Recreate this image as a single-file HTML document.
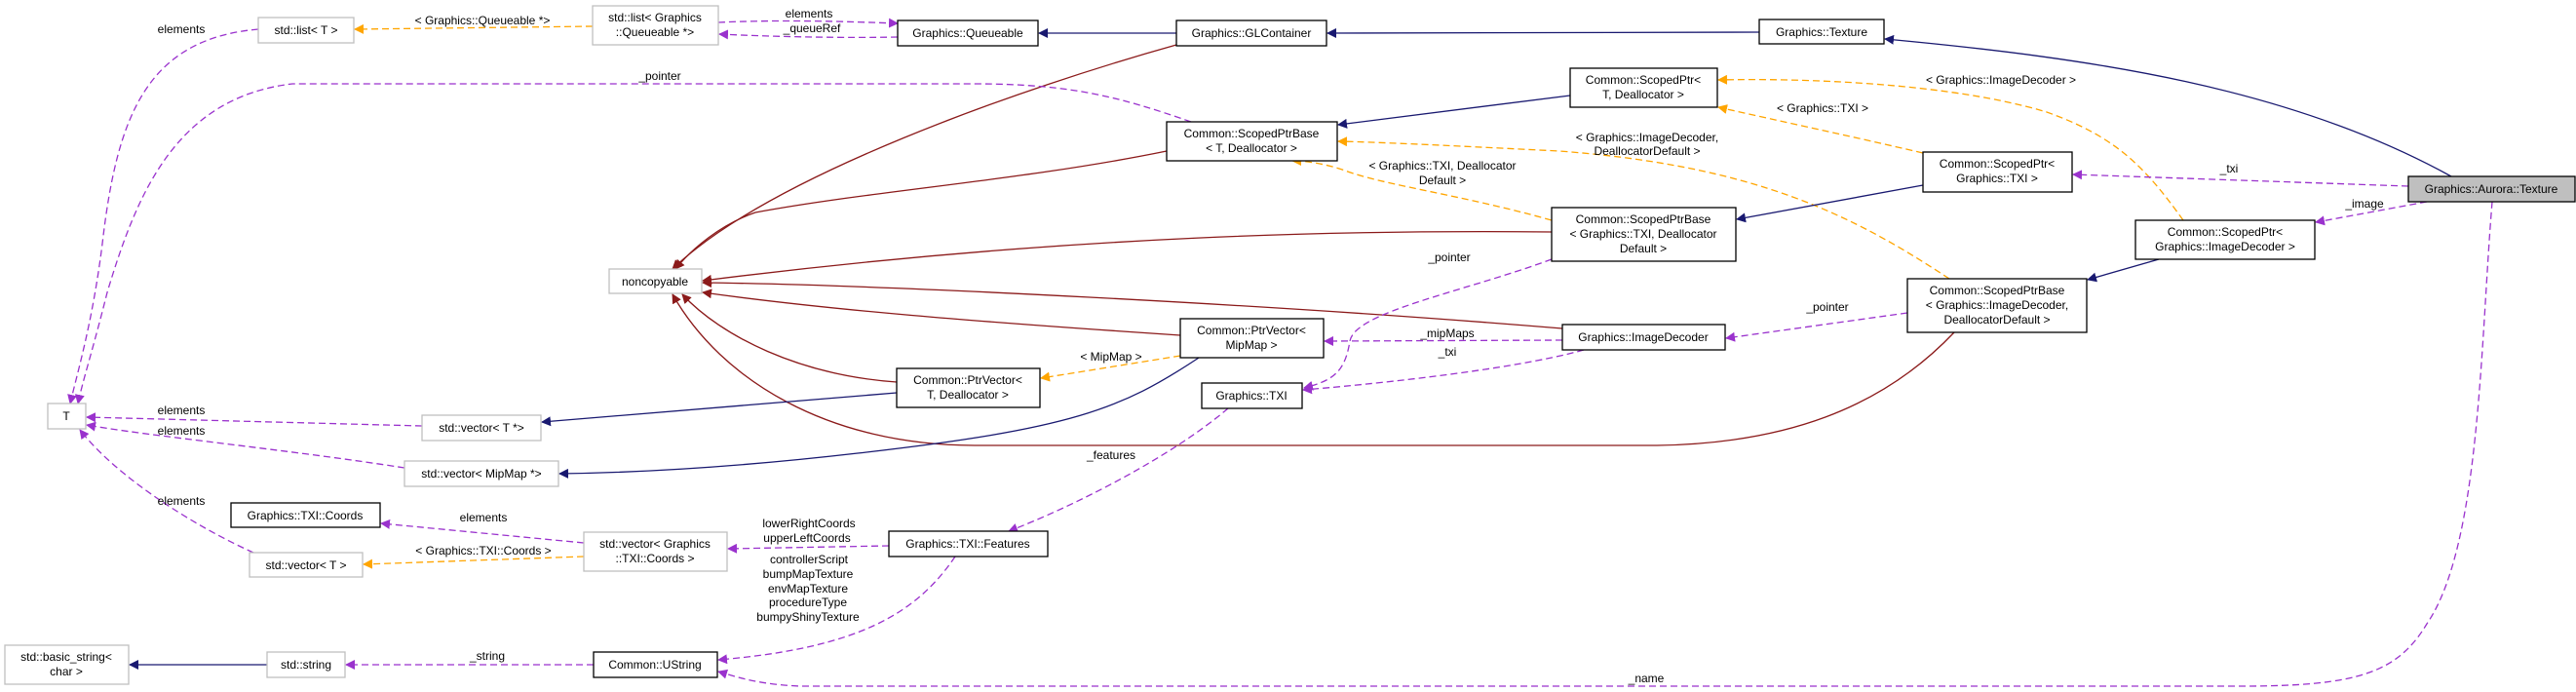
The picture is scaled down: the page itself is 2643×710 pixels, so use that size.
<!DOCTYPE html>
<html><head><meta charset="utf-8"><title>Graphics::Aurora::Texture collaboration diagram</title>
<style>
html,body{margin:0;padding:0;background:#fff;}
svg{display:block;}
text{font-family:"Liberation Sans",sans-serif;font-size:12px;fill:#000;}
.n rect{fill:#fff;stroke:#000;stroke-width:1.3;}
.g rect{fill:#fff;stroke:#bfbfbf;stroke-width:1.3;}
.nav{fill:none;stroke:#191970;stroke-width:1.3;}
.red{fill:none;stroke:#8b1a1a;stroke-width:1.3;}
.pur{fill:none;stroke:#9a32cd;stroke-width:1.3;stroke-dasharray:7,4;}
.org{fill:none;stroke:#ffa500;stroke-width:1.3;stroke-dasharray:7,4;}
</style></head>
<body>
<svg width="2643" height="710" viewBox="0 0 2643 710">
<defs>
<marker id="mn" markerWidth="10" markerHeight="10" refX="9" refY="5" orient="auto" markerUnits="userSpaceOnUse" viewBox="0 0 10 10"><path d="M0,0 L10,5 L0,10 z" fill="#191970"/></marker>
<marker id="mr" markerWidth="10" markerHeight="10" refX="9" refY="5" orient="auto" markerUnits="userSpaceOnUse" viewBox="0 0 10 10"><path d="M0,0 L10,5 L0,10 z" fill="#8b1a1a"/></marker>
<marker id="mp" markerWidth="10" markerHeight="10" refX="9" refY="5" orient="auto" markerUnits="userSpaceOnUse" viewBox="0 0 10 10"><path d="M0,0 L10,5 L0,10 z" fill="#9a32cd"/></marker>
<marker id="mo" markerWidth="10" markerHeight="10" refX="9" refY="5" orient="auto" markerUnits="userSpaceOnUse" viewBox="0 0 10 10"><path d="M0,0 L10,5 L0,10 z" fill="#ffa500"/></marker>
</defs>

<g>
<path class="nav" marker-end="url(#mn)" d="M2515,181 C2350,90 2150,60 1934,40"/>
<path class="nav" marker-end="url(#mn)" d="M1805,33 L1362,34"/>
<path class="nav" marker-end="url(#mn)" d="M1207,34 L1066,34"/>
<path class="red" marker-end="url(#mr)" d="M1207,46 C1050,90 790,180 690,276"/>
<path class="pur" marker-end="url(#mp)" d="M737,23 C800,20 870,22 921,24"/>
<path class="pur" marker-end="url(#mp)" d="M921,38 C870,39 800,38 738,35"/>
<path class="org" marker-end="url(#mo)" d="M608,27 L364,30"/>
<path class="pur" marker-end="url(#mp)" d="M265,30 C150,40 120,120 105,250 C95,330 80,380 72,414"/>
<path class="pur" marker-end="url(#mp)" d="M1222,125 C1150,100 1100,86 1000,86 L300,86 C180,100 140,200 110,300 C95,360 85,390 80,414"/>
<path class="red" marker-end="url(#mr)" d="M1197,155 C1050,185 900,195 775,218 C740,230 710,255 693,276"/>
<path class="nav" marker-end="url(#mn)" d="M1611,98 L1373,128"/>
<path class="org" marker-end="url(#mo)" d="M1592,226 C1500,200 1420,190 1380,175 C1360,168 1340,165 1326,165"/>
<path class="org" marker-end="url(#mo)" d="M2000,286 C1900,220 1800,170 1600,155 C1500,150 1420,146 1373,145"/>
<path class="org" marker-end="url(#mo)" d="M1973,157 C1900,140 1830,125 1763,110"/>
<path class="org" marker-end="url(#mo)" d="M2240,226 C2200,170 2170,140 2100,115 C2000,85 1850,80 1763,82"/>
<path class="nav" marker-end="url(#mn)" d="M1973,190 L1782,225"/>
<path class="nav" marker-end="url(#mn)" d="M2215,266 L2142,287"/>
<path class="pur" marker-end="url(#mp)" d="M2471,191 L2127,179"/>
<path class="pur" marker-end="url(#mp)" d="M2490,207 L2376,228"/>
<path class="pur" marker-end="url(#mp)" d="M2557,207 C2545,350 2545,560 2490,640 C2460,690 2420,704 2300,704 L820,704 C780,702 760,696 737,689"/>
<path class="red" marker-end="url(#mr)" d="M1592,238 C1400,236 1100,240 721,288"/>
<path class="red" marker-end="url(#mr)" d="M1603,337 C1300,312 900,292 721,290"/>
<path class="red" marker-end="url(#mr)" d="M1211,344 C1000,330 850,318 721,300"/>
<path class="red" marker-end="url(#mr)" d="M920,392 C820,385 740,345 700,302"/>
<path class="red" marker-end="url(#mr)" d="M2005,341 C1930,420 1830,455 1700,457 L1000,457 C850,457 740,390 690,302"/>
<path class="nav" marker-end="url(#mn)" d="M920,403 L556,433"/>
<path class="nav" marker-end="url(#mn)" d="M1230,367 C1150,420 1100,440 880,465 C750,480 650,485 574,486"/>
<path class="org" marker-end="url(#mo)" d="M1211,365 L1068,388"/>
<path class="pur" marker-end="url(#mp)" d="M1603,349 L1359,350"/>
<path class="pur" marker-end="url(#mp)" d="M1625,359 C1550,380 1400,395 1337,400"/>
<path class="pur" marker-end="url(#mp)" d="M1592,266 C1500,300 1390,320 1385,350 C1380,380 1370,390 1338,398"/>
<path class="pur" marker-end="url(#mp)" d="M1957,321 L1771,347"/>
<path class="pur" marker-end="url(#mp)" d="M1260,419 C1200,470 1100,520 1035,545"/>
<path class="pur" marker-end="url(#mp)" d="M912,560 L747,563"/>
<path class="pur" marker-end="url(#mp)" d="M980,571 C940,630 880,665 737,677"/>
<path class="pur" marker-end="url(#mp)" d="M599,557 L391,537"/>
<path class="org" marker-end="url(#mo)" d="M599,571 L373,579"/>
<path class="pur" marker-end="url(#mp)" d="M260,567 C200,540 120,490 82,441"/>
<path class="pur" marker-end="url(#mp)" d="M433,437 L89,428"/>
<path class="pur" marker-end="url(#mp)" d="M415,480 C300,462 150,447 89,436"/>
<path class="pur" marker-end="url(#mp)" d="M609,682 L355,682"/>
<path class="nav" marker-end="url(#mn)" d="M274,682 L133,682"/>
</g>

<g text-anchor="middle">
<text x="830" y="18">elements</text>
<text x="833" y="33">_queueRef</text>
<text x="495" y="25">&lt; Graphics::Queueable *&gt;</text>
<text x="186" y="34">elements</text>
<text x="677" y="82">_pointer</text>
<text x="1480" y="174">&lt; Graphics::TXI, Deallocator</text>
<text x="1480" y="189">Default &gt;</text>
<text x="1690" y="145">&lt; Graphics::ImageDecoder,</text>
<text x="1690" y="159">DeallocatorDefault &gt;</text>
<text x="1870" y="115">&lt; Graphics::TXI &gt;</text>
<text x="2053" y="86">&lt; Graphics::ImageDecoder &gt;</text>
<text x="2287" y="177">_txi</text>
<text x="2426" y="213">_image</text>
<text x="1689" y="700">_name</text>
<text x="1140" y="370">&lt; MipMap &gt;</text>
<text x="1485" y="346">_mipMaps</text>
<text x="1485" y="365">_txi</text>
<text x="1487" y="268">_pointer</text>
<text x="1875" y="319">_pointer</text>
<text x="1140" y="471">_features</text>
<text x="830" y="541">lowerRightCoords</text>
<text x="828" y="556">upperLeftCoords</text>
<text x="830" y="578">controllerScript</text>
<text x="829" y="593">bumpMapTexture</text>
<text x="829" y="608">envMapTexture</text>
<text x="829" y="622">procedureType</text>
<text x="829" y="637">bumpyShinyTexture</text>
<text x="496" y="535">elements</text>
<text x="496" y="569">&lt; Graphics::TXI::Coords &gt;</text>
<text x="186" y="518">elements</text>
<text x="186" y="425">elements</text>
<text x="186" y="446">elements</text>
<text x="500" y="677">_string</text>
</g>

<g text-anchor="middle">
<g class="g"><rect x="265" y="18" width="98" height="26"/><text x="314" y="35">std::list&lt; T &gt;</text></g>
<g class="g"><rect x="608" y="6" width="129" height="40"/><text x="672" y="22">std::list&lt; Graphics</text><text x="672" y="37">::Queueable *&gt;</text></g>
<g class="n"><rect x="921" y="21" width="144" height="26"/><text x="993" y="38">Graphics::Queueable</text></g>
<g class="n"><rect x="1207" y="21" width="154" height="26"/><text x="1284" y="38">Graphics::GLContainer</text></g>
<g class="n"><rect x="1805" y="20" width="128" height="25"/><text x="1869" y="37">Graphics::Texture</text></g>
<g class="n"><rect x="1611" y="70" width="151" height="40"/><text x="1686" y="86">Common::ScopedPtr&lt;</text><text x="1686" y="101">T, Deallocator &gt;</text></g>
<g class="n"><rect x="1197" y="125" width="175" height="40"/><text x="1284" y="141">Common::ScopedPtrBase</text><text x="1284" y="156">&lt; T, Deallocator &gt;</text></g>
<g class="n"><rect x="1592" y="213" width="189" height="55"/><text x="1686" y="229">Common::ScopedPtrBase</text><text x="1686" y="244">&lt; Graphics::TXI, Deallocator</text><text x="1686" y="259">Default &gt;</text></g>
<g class="n"><rect x="1973" y="156" width="153" height="41"/><text x="2049" y="172">Common::ScopedPtr&lt;</text><text x="2049" y="187">Graphics::TXI &gt;</text></g>
<g><rect x="2471" y="181" width="171" height="26" fill="#bfbfbf" stroke="#000" stroke-width="1.3"/><text x="2556" y="198">Graphics::Aurora::Texture</text></g>
<g class="n"><rect x="2191" y="226" width="184" height="40"/><text x="2283" y="242">Common::ScopedPtr&lt;</text><text x="2283" y="257">Graphics::ImageDecoder &gt;</text></g>
<g class="n"><rect x="1957" y="286" width="184" height="55"/><text x="2049" y="302">Common::ScopedPtrBase</text><text x="2049" y="317">&lt; Graphics::ImageDecoder,</text><text x="2049" y="332">DeallocatorDefault &gt;</text></g>
<g class="n"><rect x="1603" y="333" width="167" height="26"/><text x="1686" y="350">Graphics::ImageDecoder</text></g>
<g class="n"><rect x="1211" y="327" width="147" height="40"/><text x="1284" y="343">Common::PtrVector&lt;</text><text x="1284" y="358">MipMap &gt;</text></g>
<g class="g"><rect x="625" y="276" width="95" height="25"/><text x="672" y="293">noncopyable</text></g>
<g class="n"><rect x="920" y="378" width="147" height="40"/><text x="993" y="394">Common::PtrVector&lt;</text><text x="993" y="409">T, Deallocator &gt;</text></g>
<g class="n"><rect x="1233" y="393" width="103" height="26"/><text x="1284" y="410">Graphics::TXI</text></g>
<g class="n"><rect x="912" y="545" width="163" height="26"/><text x="993" y="562">Graphics::TXI::Features</text></g>
<g class="g"><rect x="49" y="414" width="39" height="26"/><text x="68" y="431">T</text></g>
<g class="g"><rect x="433" y="426" width="122" height="26"/><text x="494" y="443">std::vector&lt; T *&gt;</text></g>
<g class="g"><rect x="415" y="473" width="158" height="26"/><text x="494" y="490">std::vector&lt; MipMap *&gt;</text></g>
<g class="n"><rect x="237" y="516" width="153" height="25"/><text x="313" y="533">Graphics::TXI::Coords</text></g>
<g class="g"><rect x="599" y="546" width="147" height="40"/><text x="672" y="562">std::vector&lt; Graphics</text><text x="672" y="577">::TXI::Coords &gt;</text></g>
<g class="g"><rect x="256" y="567" width="116" height="25"/><text x="314" y="584">std::vector&lt; T &gt;</text></g>
<g class="g"><rect x="5" y="662" width="127" height="40"/><text x="68" y="678">std::basic_string&lt;</text><text x="68" y="693">char &gt;</text></g>
<g class="g"><rect x="274" y="669" width="80" height="26"/><text x="314" y="686">std::string</text></g>
<g class="n"><rect x="609" y="669" width="127" height="26"/><text x="672" y="686">Common::UString</text></g>
</g>
</svg>
</body></html>
